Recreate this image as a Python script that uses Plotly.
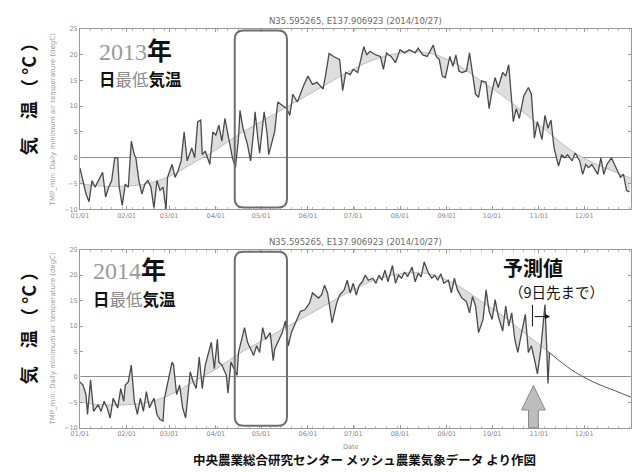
import pandas as pd
import plotly.graph_objects as go

# ---------------- data ----------------
DAYS_2013 = [0,4,6,8,10,13,15,17,19,21,23,25,26,28,30,32,34,36,37,39,41,43,45,47,49,51,53,55,57,58,
             61,63,65,67,69,71,74,76,78,80,81,83,86,88,90,92,94,96,99,101,103,105,106,108,111,113,115,116,118,119,
             122,124,125,128,129,131,134,137,139,141,144,148,151,154,157,161,163,165,168,172,174,176,179,
             181,184,186,188,190,192,196,199,201,203,206,209,212,215,218,222,224,227,230,234,236,238,240,242,
             245,247,249,251,253,256,258,260,262,264,266,269,271,273,275,277,280,282,284,286,287,289,291,294,
             297,299,301,303,306,308,310,312,314,317,319,321,323,326,328,331,333,335,337,339,343,345,347,349,
             352,355,358,360,362,364]
TMIN_2013 = [-2.0,-7.0,-8.5,-4.4,-5.7,-3.8,-2.8,-7.6,-5.7,-4.4,0.0,0.0,-5.7,-9.2,-5.1,-5.7,3.2,0.6,0.0,-4.4,
             -7.0,-5.1,-4.4,-5.7,-9.8,-4.4,-6.3,-5.7,-10.0,-3.8,
             -1.3,-3.8,-2.5,-0.6,5.0,-0.6,1.9,0.0,7.0,7.3,0.6,1.3,-1.3,5.0,4.4,6.3,3.2,7.6,3.2,0.0,-1.9,3.8,9.2,5.7,
             2.5,-0.6,5.0,8.9,3.2,0.9,
             8.9,4.4,0.6,3.8,5.1,10.8,10.1,9.5,8.2,12.3,10.8,13.9,15.8,14.2,14.6,13.3,16.5,20.2,19.6,19.0,13.0,16.5,16.1,
             17.1,16.5,19.0,21.5,19.9,20.6,19.9,19.6,17.1,20.3,19.6,18.4,20.9,20.3,20.9,20.3,21.2,19.9,19.6,21.8,
             19.6,19.0,15.8,15.5,
             19.6,17.7,19.9,16.8,16.5,16.8,20.3,16.5,12.3,11.7,14.9,14.6,9.5,13.0,15.5,13.6,16.5,15.8,18.0,10.8,7.0,
             9.5,7.6,12.0,
             13.6,12.3,3.8,7.0,3.5,8.2,5.7,7.3,1.9,-1.6,0.6,0.0,0.6,-0.6,0.9,-0.6,-3.2,-1.3,-1.9,-1.3,-3.2,0.0,-3.2,-1.3,
             0.0,-1.9,-3.8,-3.2,-6.3,-6.6]

DAYS_2014 = [0,2,4,5,7,9,12,14,16,18,20,22,25,27,29,30,32,34,36,38,40,42,44,46,49,51,53,55,56,58,
             61,62,64,66,68,70,73,75,77,79,81,83,86,87,89,91,92,94,97,98,100,102,104,105,107,109,111,113,115,117,
             119,121,123,126,128,129,131,134,136,138,140,142,146,149,152,154,158,160,162,164,167,170,172,175,177,179,
             181,183,185,187,189,191,194,196,198,200,202,204,207,209,211,213,215,217,220,222,224,226,228,231,233,235,
             237,239,241,244,246,248,250,253,256,258,260,262,264,267,269,271,273,275,277,280,282,284,286,288,290,293,
             295,297,299,301,303,305,307,308,309,310,311]
TMIN_2014 = [-1.0,-1.6,-3.5,-7.4,-0.6,-6.8,-5.5,-6.8,-4.8,-6.1,-8.1,-4.2,-6.1,-2.3,-4.8,-1.6,-1.0,2.3,-4.8,-7.4,
             -4.2,-6.8,-2.9,-6.1,-4.2,-7.4,-8.4,-8.7,-4.2,-1.6,
             2.9,2.3,-3.5,-1.6,-6.1,-8.1,1.0,-1.0,-2.3,3.9,-2.3,2.3,6.1,6.8,1.6,7.4,2.9,2.3,0.3,-3.2,2.9,1.6,0.3,4.8,
             7.4,9.7,6.8,5.5,4.2,6.1,
             4.8,9.7,7.4,8.7,3.2,5.5,6.8,8.7,11.0,6.1,8.7,10.0,12.9,13.2,14.5,16.5,15.5,16.1,18.0,16.5,10.6,14.5,16.1,
             17.1,19.0,16.5,
             18.4,16.1,18.0,18.7,20.0,19.0,19.4,18.4,20.0,19.0,21.0,18.7,21.9,18.4,20.0,19.4,20.6,19.7,21.6,18.7,20.3,
             19.7,22.6,20.3,19.4,20.0,
             19.0,20.3,18.4,19.0,16.5,19.4,17.1,15.5,14.8,12.6,15.8,14.0,8.7,11.3,17.1,12.9,11.3,15.2,12.0,9.0,13.9,
             10.0,12.6,7.4,4.8,9.4,
             12.3,4.8,6.1,3.5,0.6,4.8,10.3,14.2,6.8,-1.3,4.8]

NORMAL_DAYS = [0,15,30,45,60,75,90,105,120,135,150,165,180,195,210,222,235,250,265,280,295,310,325,340,355,365]
NORMAL_TMIN = [-5.0,-5.5,-5.5,-5.0,-3.5,-1.0,1.5,4.5,7.0,9.5,12.0,14.5,17.0,19.0,20.2,20.5,20.0,18.0,15.0,12.0,
               8.5,5.0,1.5,-1.0,-2.8,-4.0]

FORECAST_START_DAY = 310   # after this only the normal curve is drawn (2014)
Y_TICKS = [-10, -5, 0, 5, 10, 15, 20, 25]
TITLE = "N35.595265, E137.906923 (2014/10/27)"
YTITLE = "TMP_min: Daily minimum air temperature (degC)"
CAPTION = "中央農業総合研究センター メッシュ農業気象データ より作図"

W, H = 633, 472


def px(x):
    return x / W


def py(y):
    return 1 - y / H


def to_dates(year, days):
    base = pd.Timestamp(f"{year}-01-01")
    return base + pd.to_timedelta(days, unit="D")


fig = go.Figure()

DATA_COLOR = "#4a4a4a"
NORM_COLOR = "#b0b0b0"
FILL_COLOR = "#dedede"

# ---- 2013 (top) ----
fig.add_trace(go.Scatter(x=to_dates(2013, NORMAL_DAYS), y=NORMAL_TMIN, mode="lines",
                         line=dict(color=NORM_COLOR, width=0.8, shape="spline"),
                         xaxis="x", yaxis="y", showlegend=False, hoverinfo="skip"))
fig.add_trace(go.Scatter(x=to_dates(2013, DAYS_2013), y=TMIN_2013, mode="lines",
                         line=dict(color=DATA_COLOR, width=1.3), fill="tonexty", fillcolor=FILL_COLOR,
                         xaxis="x", yaxis="y", showlegend=False))

# ---- 2014 (bottom) ----
nd_fill = [d for d in NORMAL_DAYS if d <= FORECAST_START_DAY]
nv_fill = NORMAL_TMIN[:len(nd_fill)]
nd_tail = [d for d in NORMAL_DAYS if d >= FORECAST_START_DAY]
nv_tail = NORMAL_TMIN[len(NORMAL_DAYS) - len(nd_tail):]
fig.add_trace(go.Scatter(x=to_dates(2014, nd_fill), y=nv_fill, mode="lines",
                         line=dict(color=NORM_COLOR, width=0.8, shape="spline"),
                         xaxis="x2", yaxis="y2", showlegend=False, hoverinfo="skip"))
fig.add_trace(go.Scatter(x=to_dates(2014, DAYS_2014), y=TMIN_2014, mode="lines",
                         line=dict(color=DATA_COLOR, width=1.3), fill="tonexty", fillcolor=FILL_COLOR,
                         xaxis="x2", yaxis="y2", showlegend=False))
fig.add_trace(go.Scatter(x=to_dates(2014, nd_tail), y=nv_tail, mode="lines",
                         line=dict(color="#555555", width=1, shape="spline"),
                         xaxis="x2", yaxis="y2", showlegend=False))

XDOM = [px(72), px(631)]
TOP_DOM = [py(209), py(25)]
BOT_DOM = [py(431), py(250)]

tickfont = dict(family="DejaVu Sans", size=6.5, color="#8a8a8a")


def xaxis_cfg(year, anchor):
    return dict(domain=XDOM, anchor=anchor, type="date",
                range=[f"{year}-01-01", f"{year + 1}-01-01"],
                tickvals=list(pd.date_range(f"{year}-01-01", periods=12, freq="MS")),
                tickformat="%m/%d", tickfont=tickfont, ticks="inside", ticklen=3,
                tickcolor="#999", showline=True, linecolor="#999", linewidth=1, mirror="allticks",
                showgrid=False, zeroline=False,
                minor=dict(ticks="inside", ticklen=2, dtick=7 * 86400000, tickcolor="#bbb",
                           tick0=f"{year}-01-01", showgrid=False))


def yaxis_cfg(dom, anchor):
    return dict(domain=dom, anchor=anchor, range=[-10, 25], tickvals=Y_TICKS,
                tickfont=tickfont, ticks="inside", ticklen=3, tickcolor="#999",
                showline=True, linecolor="#999", linewidth=1, mirror="allticks",
                showgrid=False, zeroline=True, zerolinecolor="#8c8c8c", zerolinewidth=1)


fig.update_layout(
    width=W, height=H, margin=dict(l=0, r=0, t=0, b=0),
    paper_bgcolor="white", plot_bgcolor="white",
    xaxis=xaxis_cfg(2013, "y"), yaxis=yaxis_cfg(TOP_DOM, "x"),
    xaxis2=xaxis_cfg(2014, "y2"), yaxis2=yaxis_cfg(BOT_DOM, "x2"),
)

anns = []
CJK = "Noto Sans CJK JP"


def note(text, x, y, size, color="#111", family=CJK, xanchor="center", angle=0):
    return dict(text=text, x=px(x), y=py(y), xref="paper", yref="paper", xanchor=xanchor,
                yanchor="middle", textangle=angle, showarrow=False,
                font=dict(family=family, size=size, color=color))


for (tc, yc, big_y, yr, yr_y, sub_y, x0) in [(17, 117, 92, 2013, 46, 76, 89),
                                               (242, 340, 325, 2014, 269, 300, 83)]:
    anns.append(note(TITLE, 352, tc, 8.5, "#6a6a6a", "DejaVu Sans"))
    anns.append(note(YTITLE, 45, yc, 7, "#9a9a9a", "DejaVu Sans", angle=-90))
    anns.append(note("<b>気\u3000温 （ °C ）</b>", 20, big_y, 18, angle=-90))
    anns.append(note(f"<span style='font-family:Liberation Serif;color:#9a9a9a;font-size:24px'>{yr}</span>"
                     f"<b>年</b>", x0, yr_y, 25, xanchor="left"))
    anns.append(note("<b>日</b><span style='color:#8a8a8a'>最低</span><b>気温</b>", x0, sub_y, 16.5,
                     xanchor="left"))

anns.append(note("Date", 347, 451, 6.5, "#8a8a8a", "DejaVu Sans"))
anns.append(note("<b>" + CAPTION + "</b>", 361, 463, 12.5))
anns.append(note("<b>予測値</b>", 532, 268, 20))
anns.append(note("（9日先まで）", 555, 292, 14.5))
# small "|→" arrow
anns.append(dict(text="", x=px(549), y=py(318), xref="paper", yref="paper", ax=-17, ay=0,
                 axref="pixel", ayref="pixel", showarrow=True, arrowhead=2, arrowsize=1,
                 arrowwidth=1, arrowcolor="#111"))

shapes = []


def rounded_rect(x0, y0, x1, y1, r=9):
    pts = [
        f"M {px(x0 + r)},{py(y0)}", f"L {px(x1 - r)},{py(y0)}",
        f"Q {px(x1)},{py(y0)} {px(x1)},{py(y0 + r)}", f"L {px(x1)},{py(y1 - r)}",
        f"Q {px(x1)},{py(y1)} {px(x1 - r)},{py(y1)}", f"L {px(x0 + r)},{py(y1)}",
        f"Q {px(x0)},{py(y1)} {px(x0)},{py(y1 - r)}", f"L {px(x0)},{py(y0 + r)}",
        f"Q {px(x0)},{py(y0)} {px(x0 + r)},{py(y0)}", "Z",
    ]
    return dict(type="path", path=" ".join(pts), xref="paper", yref="paper",
                line=dict(color="#6e6e6e", width=2), fillcolor="rgba(0,0,0,0)")


shapes.append(rounded_rect(229, 27, 282, 207))
shapes.append(rounded_rect(229, 252, 282, 429))
# vertical bar of "|→"
shapes.append(dict(type="line", x0=px(531), x1=px(531), y0=py(306), y1=py(328), xref="paper", yref="paper",
                   line=dict(color="#111", width=1)))
# big gray up arrow
arrow_pts = [(532, 388), (544, 413), (537, 413), (537, 431), (527, 431), (527, 413), (520, 413)]
path = "M " + " L ".join(f"{px(a)},{py(b)}" for a, b in arrow_pts) + " Z"
shapes.append(dict(type="path", path=path, xref="paper", yref="paper",
                   line=dict(color="#8a8a8a", width=1), fillcolor="#bdbdbd"))

fig.update_layout(annotations=anns, shapes=shapes)
fig.write_html("out.html")
